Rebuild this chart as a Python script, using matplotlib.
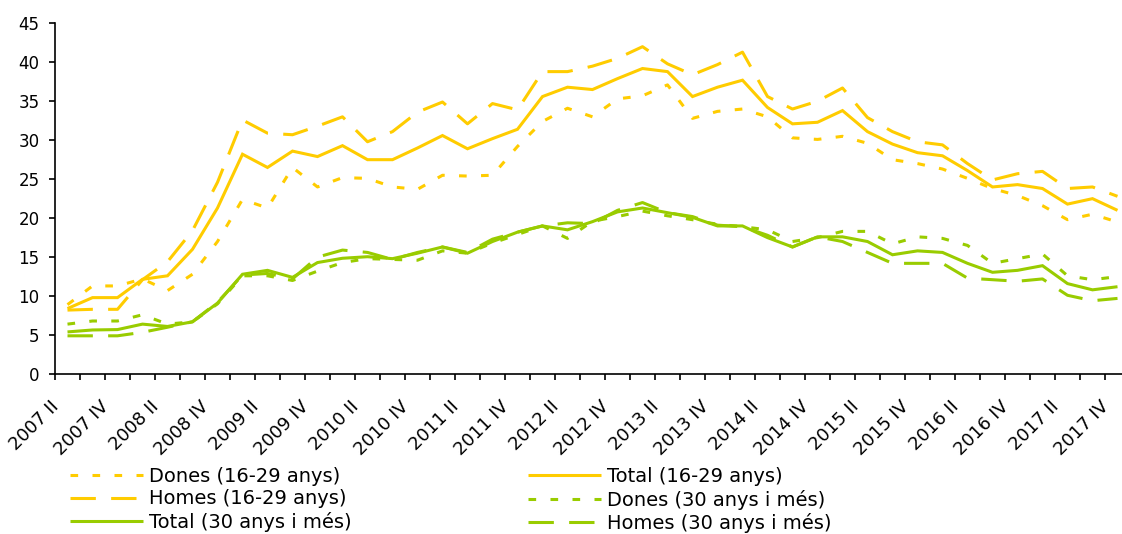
import matplotlib
matplotlib.use('Agg')
import matplotlib.pyplot as plt
import matplotlib.transforms as mtransforms
import numpy as np

# trimestres 2007 II - 2017 IV
quarters = ['2007 II', '2007 III', '2007 IV',
            '2008 I', '2008 II', '2008 III', '2008 IV',
            '2009 I', '2009 II', '2009 III', '2009 IV',
            '2010 I', '2010 II', '2010 III', '2010 IV',
            '2011 I', '2011 II', '2011 III', '2011 IV',
            '2012 I', '2012 II', '2012 III', '2012 IV',
            '2013 I', '2013 II', '2013 III', '2013 IV',
            '2014 I', '2014 II', '2014 III', '2014 IV',
            '2015 I', '2015 II', '2015 III', '2015 IV',
            '2016 I', '2016 II', '2016 III', '2016 IV',
            '2017 I', '2017 II', '2017 III', '2017 IV']

dones_16_29 = [8.9, 11.3, 11.3, 12.2, 10.7, 12.8, 17.0, 22.4, 21.3, 26.5,
               24.0, 25.2, 25.1, 24.0, 23.7, 25.5, 25.4, 25.5, 29.2, 32.4,
               34.1, 33.0, 35.3, 35.7, 37.1, 32.8, 33.7, 34.0, 33.0, 30.3,
               30.1, 30.5, 29.6, 27.5, 27.0, 26.3, 25.1, 23.8, 22.9, 21.6,
               19.8, 20.5, 19.5]
total_16_29 = [8.4, 9.8, 9.8, 12.15, 12.6, 16.0, 21.3, 28.2, 26.5, 28.6,
               27.9, 29.3, 27.5, 27.5, 29.0, 30.6, 28.9, 30.2, 31.4, 35.6,
               36.8, 36.5, 37.9, 39.2, 38.8, 35.6, 36.8, 37.7, 34.2, 32.1,
               32.3, 33.8, 31.1, 29.5, 28.4, 28.0, 26.1, 24.0, 24.3, 23.8,
               21.8, 22.5, 21.0]
homes_16_29 = [8.2, 8.3, 8.3, 12.1, 14.4, 18.4, 24.6, 32.6, 30.9, 30.7,
               31.8, 33.0, 29.8, 31.1, 33.6, 34.9, 32.1, 34.7, 33.9, 38.8,
               38.8, 39.5, 40.5, 42.0, 39.8, 38.4, 39.7, 41.3, 35.6, 34.0,
               35.0, 36.7, 32.9, 31.1, 29.8, 29.4, 27.0, 24.9, 25.7, 26.0,
               23.8, 24.0, 22.8]
dones_30 = [6.4, 6.8, 6.8, 7.6, 6.4, 6.7, 9.0, 12.6, 12.6, 12.0,
            13.2, 14.3, 14.8, 14.7, 14.6, 15.8, 15.5, 16.8, 17.9, 19.0,
            17.4, 19.6, 20.2, 20.9, 20.3, 19.8, 19.2, 18.9, 18.5, 17.0,
            17.5, 18.3, 18.3, 16.7, 17.6, 17.4, 16.5, 14.2, 14.8, 15.4,
            12.6, 12.1, 12.5]
total_30 = [5.4, 5.65, 5.7, 6.4, 6.1, 6.7, 9.1, 12.8, 13.3, 12.4,
            14.3, 14.85, 15.05, 14.8, 15.5, 16.3, 15.5, 17.0, 18.2, 19.0,
            18.5, 19.55, 20.8, 21.3, 20.7, 20.1, 19.0, 19.0, 17.5, 16.3,
            17.6, 17.6, 17.0, 15.3, 15.8, 15.6, 14.2, 13.05, 13.3, 13.9,
            11.6, 10.8, 11.2]
homes_30 = [4.9, 4.9, 4.9, 5.35, 6.0, 6.7, 9.2, 12.7, 12.9, 12.2,
            15.0, 15.9, 15.6, 14.7, 15.6, 16.3, 15.6, 17.3, 18.2, 19.0,
            19.4, 19.3, 21.0, 22.0, 20.7, 20.2, 19.1, 18.9, 17.8, 16.3,
            17.6, 17.0, 15.6, 14.2, 14.2, 14.2, 12.3, 12.1, 11.9, 12.2,
            10.1, 9.4, 9.7]

tick_labels = quarters[::2]

yellow = '#FFCC00'
green = '#99CC00'
lw = 2.2
dotted = (2.5, 4.7)
long_dash = (8.3, 5.0)

fig = plt.figure(figsize=(11.22, 5.34), dpi=100)
ax = fig.add_axes([55 / 1122, 160 / 534, 1075 / 1122, 350.7 / 534])

x = np.arange(len(quarters))
series = [
    (dones_16_29, yellow, dotted, 'Dones (16-29 anys)'),
    (total_16_29, yellow, None, 'Total (16-29 anys)'),
    (homes_16_29, yellow, long_dash, 'Homes (16-29 anys)'),
    (dones_30, green, dotted, 'Dones (30 anys i més)'),
    (total_30, green, None, 'Total (30 anys i més)'),
    (homes_30, green, long_dash, 'Homes (30 anys i més)'),
]
lines = {}
for vals, col, dash, name in series:
    ln, = ax.plot(x, vals, color=col, lw=lw, solid_capstyle='butt',
                  dash_capstyle='butt', solid_joinstyle='miter', label=name)
    if dash is not None:
        ln.set_dashes(dash)
    lines[name] = ln

ax.set_xlim(-0.5, len(quarters) - 0.5)
ax.set_ylim(0, 45)
ax.set_yticks(range(0, 46, 5))
ax.tick_params(axis='y', direction='out', length=4, width=1.2, pad=7,
               labelsize=12, colors='black')

ax.set_xticks(x[::2])
ax.set_xticklabels(tick_labels, rotation=45, ha='right', va='top', fontsize=13)
ax.set_xticks(np.arange(-0.5, len(quarters), 1), minor=True)
ax.tick_params(axis='x', which='major', length=0, pad=17)
ax.tick_params(axis='x', which='minor', direction='out', length=4.3, width=1.2)
shift = mtransforms.ScaledTranslation(-5 / 100, 0, fig.dpi_scale_trans)
for lab in ax.get_xticklabels():
    lab.set_transform(lab.get_transform() + shift)

for s in ['top', 'right']:
    ax.spines[s].set_visible(False)
for s in ['left', 'bottom']:
    ax.spines[s].set_linewidth(1.2)
    ax.spines[s].set_color('black')

order = ['Dones (16-29 anys)', 'Homes (16-29 anys)', 'Total (30 anys i més)',
         'Total (16-29 anys)', 'Dones (30 anys i més)', 'Homes (30 anys i més)']
fig.legend([lines[n] for n in order], order, loc='upper left',
           bbox_to_anchor=(70 / 1122, 1 - 467 / 534), ncol=2, frameon=False,
           fontsize=14, handlelength=3.76, handletextpad=0.29,
           columnspacing=9.1, labelspacing=0.18, borderpad=0, borderaxespad=0)

fig.savefig('out.png', dpi=100)
